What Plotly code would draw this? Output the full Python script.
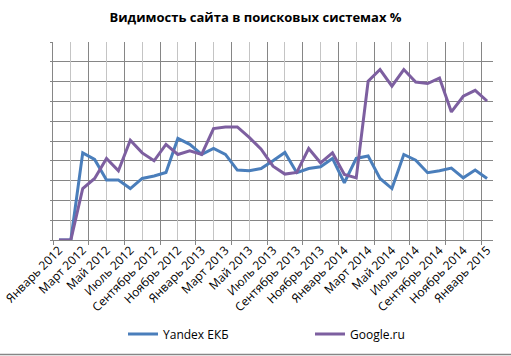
import plotly.graph_objects as go

months = ["Январь", "Февраль", "Март", "Апрель", "Май", "Июнь", "Июль", "Август",
          "Сентябрь", "Октябрь", "Ноябрь", "Декабрь"]
categories = [f"{months[i % 12]} {2012 + i // 12}" for i in range(37)]

yandex = [0, 0, 44.0, 40.7, 30.3, 30.3, 26.0, 31.1, 32.3, 34.1, 51.3, 48.3, 43.2,
          46.2, 43.2, 35.3, 35.0, 36.1, 40.0, 44.2, 34.0, 36.1, 37.0, 41.2, 28.9,
          41.2, 42.4, 31.1, 26.0, 43.2, 40.3, 34.0, 35.0, 36.3, 31.4, 35.3, 31.1]
google = [0, 0, 26.0, 31.1, 41.2, 35.0, 50.4, 44.0, 40.0, 48.3, 43.2, 45.0, 43.2,
          56.3, 57.1, 57.1, 51.8, 45.9, 37.3, 33.3, 34.1, 46.2, 39.0, 44.0, 33.1,
          31.4, 80.2, 86.1, 77.7, 86.1, 79.8, 79.0, 81.8, 64.7, 72.6, 75.6, 70.2]

series_names = ["Yandex ЕКБ", "Google.ru"]
series_colors = ["#4A7EBB", "#7D5FA0"]

idx = list(range(len(categories)))
label_idx = idx[::2]
label_text = [categories[i] for i in label_idx]

W, H = 511, 356
ML, MR, MT, MB = 53, 18, 42, 116
FONT = "Open Sans"
plot_w = W - ML - MR
plot_h = H - MT - MB

fig = go.Figure()
legend_ids = ["legend", "legend2"]
for name, vals, col, lg in zip(series_names, [yandex, google], series_colors, legend_ids):
    fig.add_trace(go.Scatter(x=idx, y=vals, mode="lines", name=name, legend=lg,
                             line=dict(color=col, width=3)))

# invisible traces hosting the label axis and the light-grid axis
fig.add_trace(go.Scatter(x=[label_idx[0]], y=[0], xaxis="x2", mode="markers",
                         marker=dict(opacity=0), showlegend=False, hoverinfo="skip"))
fig.add_trace(go.Scatter(x=[label_idx[0]], y=[0], xaxis="x3", mode="markers",
                         marker=dict(opacity=0), showlegend=False, hoverinfo="skip"))

xr = [-0.5, len(categories) - 0.5]
leg_y = -(334 - (H - MB)) / plot_h
light_grid = [1.0 + 3 * k for k in range(12)]

fig.update_layout(
    width=W, height=H,
    margin=dict(l=ML, r=MR, t=MT, b=MB, autoexpand=False),
    paper_bgcolor="white", plot_bgcolor="white",
    font=dict(family=FONT, size=12, color="#000000"),
    title=dict(text="<b>Видимость сайта в поисковых системах %</b>",
               x=0.5, xanchor="center", y=1 - 17 / H, yanchor="middle",
               font=dict(family=FONT, size=13, color="#000000")),
    xaxis3=dict(range=xr, overlaying="x", side="bottom", anchor="y",
                tickmode="array", tickvals=light_grid, showticklabels=False,
                ticks="", showgrid=True, gridcolor="#C4C4C4", gridwidth=1,
                zeroline=False, showline=False, automargin=False, layer="below traces"),
    xaxis=dict(range=xr, tickmode="linear", tick0=-0.5, dtick=3,
               showticklabels=False, ticks="outside", ticklen=4,
               tickcolor="#868686", showgrid=True, gridcolor="#868686", gridwidth=1,
               showline=True, linecolor="#868686", linewidth=1,
               zeroline=False, fixedrange=True, automargin=False),
    xaxis2=dict(range=xr, overlaying="x", side="bottom", anchor="y",
                tickmode="array", tickvals=label_idx, ticktext=label_text,
                tickangle=-45, ticks="", ticklen=0, showgrid=False,
                tickfont=dict(family=FONT, size=12, color="#000000"),
                zeroline=False, showline=False, automargin=False),
    yaxis=dict(range=[0, 100], dtick=10, showticklabels=False,
               ticks="outside", ticklen=2, tickcolor="#868686",
               showgrid=True, gridcolor="#868686", gridwidth=1,
               showline=True, linecolor="#868686", zeroline=False,
               fixedrange=True, automargin=False),
    legend=dict(orientation="h", x=(123 - ML) / plot_w, xanchor="left",
                y=leg_y, yanchor="middle",
                font=dict(family=FONT, size=12, color="#000000"),
                bgcolor="rgba(0,0,0,0)"),
    legend2=dict(orientation="h", x=(310 - ML) / plot_w, xanchor="left",
                 y=leg_y, yanchor="middle",
                 font=dict(family=FONT, size=12, color="#000000"),
                 bgcolor="rgba(0,0,0,0)"),
    showlegend=True,
)

# chart area bottom border
fig.add_shape(type="line", xref="paper", yref="paper",
              x0=-ML / plot_w, x1=1 + MR / plot_w,
              y0=-(MB - 1.5) / plot_h, y1=-(MB - 1.5) / plot_h,
              line=dict(color="#868686", width=1.5))

fig.write_html("out.html", config={"displayModeBar": False},
               post_script="document.body.style.margin='0';document.body.style.padding='0';")
